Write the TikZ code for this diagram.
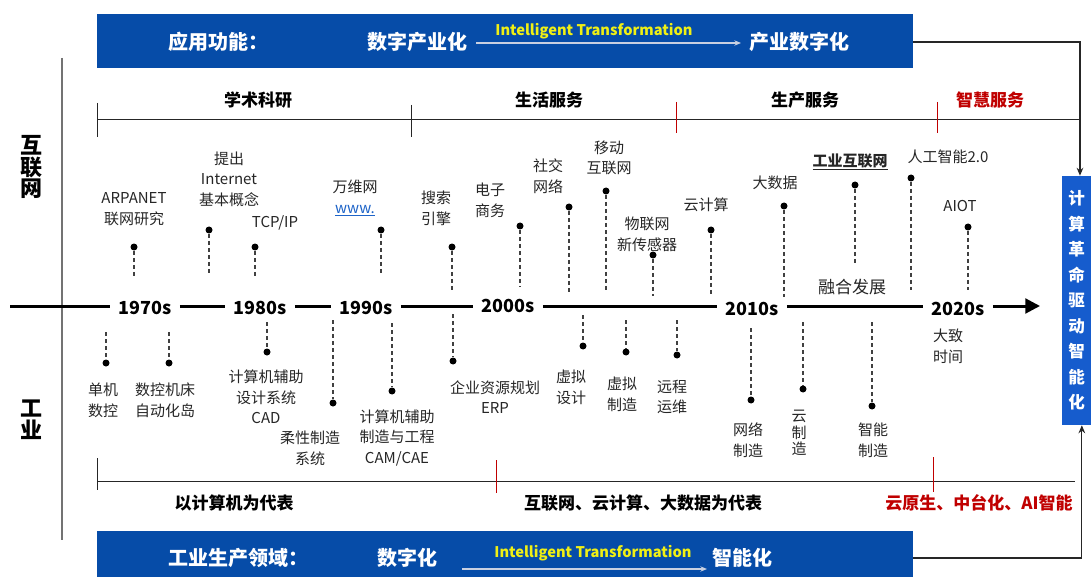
\documentclass[tikz,border=0pt]{standalone}
\usepackage{fontspec}
\setmainfont{Noto Sans CJK SC}
\usetikzlibrary{arrows.meta}
\definecolor{bannerblue}{RGB}{6,76,168}
\definecolor{boxblue}{RGB}{22,92,205}
\definecolor{darkred}{RGB}{192,0,0}
\definecolor{ityellow}{RGB}{240,240,20}
\definecolor{linkblue}{RGB}{30,100,200}
\definecolor{arrowgray}{RGB}{200,208,225}
\tikzset{
  lbl/.style={font=\fontsize{11.25pt}{15.5pt}\selectfont, align=center, inner sep=0pt, text=black!85},
  catlbl/.style={font=\bfseries\fontsize{12.75pt}{15pt}\selectfont, inner sep=0pt},
  yearlbl/.style={font=\bfseries\fontsize{13.5pt}{15pt}\selectfont, inner xsep=6pt, inner ysep=0pt},
  banlbl/.style={font=\bfseries\fontsize{15pt}{18pt}\selectfont, text=white, inner sep=0pt},
  itlbl/.style={font=\bfseries\fontsize{11pt}{12pt}\selectfont, text=ityellow, inner sep=0pt},
  dotn/.style={circle, fill=black, inner sep=0pt, minimum size=5.25pt},
  dashln/.style={dash pattern=on 3pt off 2.25pt, line width=0.9pt, black!75},
  tline/.style={line width=2.25pt, black},
  brline/.style={line width=0.75pt, black!85},
  redtick/.style={line width=0.75pt, darkred},
  conn/.style={line width=0.9pt, black!85, -{Stealth[length=6pt,width=5pt]}},
  itarrow/.style={line width=1.1pt, arrowgray, -{Stealth[length=5pt,width=4pt]}},
}
\begin{document}
\begin{tikzpicture}[x=0.75pt,y=-0.75pt]
\useasboundingbox (0,0) rectangle (1091,577);
\fill[white] (0,0) rectangle (1091,577);

% banners
\node[fill=bannerblue, minimum width=612pt, minimum height=40.5pt, inner sep=0pt, anchor=north west] (topbanner) at (97,14) {};
\node[fill=bannerblue, minimum width=612pt, minimum height=34.5pt, inner sep=0pt, anchor=north west] (botbanner) at (97,531) {};
\node[banlbl] (tb1) at (218,42) {应用功能：};
\node[banlbl] (tb2) at (417,42) {数字产业化};
\node[banlbl] (tb3) at (799,42) {产业数字化};
\node[itlbl] (tit) at (594,31) {Intelligent Transformation};
\coordinate (ta1) at (476,43);
\coordinate (ta2) at (741,43);
\draw[itarrow] (ta1) -- (ta2);
\node[banlbl] (bb1) at (238,558) {工业生产领域：};
\node[banlbl] (bb2) at (407,558) {数字化};
\node[banlbl] (bb3) at (742,558) {智能化};
\node[itlbl] (bit) at (593,553) {Intelligent Transformation};
\coordinate (ba1) at (462,569);
\coordinate (ba2) at (707,569);
\draw[itarrow] (ba1) -- (ba2);

% vertical box
\node[fill=boxblue, minimum width=21.75pt, minimum height=186.75pt, inner sep=0pt, text=white,
  align=center, font=\bfseries\fontsize{12.4pt}{19.1pt}\selectfont] (vbox) at (1076.5,300.5)
  {计\\算\\革\\命\\驱\\动\\智\\能\\化};
\coordinate (tcorner) at (913,42);
\coordinate (bcorner) at (913,558);
\draw[conn] (tcorner) -| ([xshift=2.6pt]vbox.north);
\draw[conn] (bcorner) -| ([xshift=4pt]vbox.south);

% left side
\coordinate (lv1) at (62,58);
\coordinate (lv2) at (62,540);
\draw[line width=0.8pt, black!55] (lv1) -- (lv2);
\node[align=center, inner sep=0pt, font=\bfseries\fontsize{16.5pt}{15pt}\selectfont] (hlw) at (32,167) {互\\联\\网};
\node[align=center, inner sep=0pt, font=\bfseries\fontsize{16.5pt}{16.5pt}\selectfont] (gy) at (32,420) {工\\业};

% top bracket
\coordinate (tb0) at (97,120);
\coordinate (tbe) at (1080,120);
\draw[brline] (tb0) -- (tbe);
\draw[brline] (97,103) -- (97,137);
\draw[brline] (411,105) -- (411,137);
\draw[redtick] (676,102) -- (676,133);
\draw[redtick] (937,102) -- (937,133);
\node[catlbl] (c1) at (258,100) {学术科研};
\node[catlbl] (c2) at (549,100) {生活服务};
\node[catlbl] (c3) at (805,100) {生产服务};
\node[catlbl, text=darkred] (c4) at (990,100) {智慧服务};

% bottom bracket
\coordinate (bb0) at (97,481);
\coordinate (bbe) at (1075,481);
\draw[brline] (bb0) -- (bbe);
\draw[brline] (97,458) -- (97,490);
\draw[redtick] (496,460) -- (496,493);
\draw[redtick] (933,457) -- (933,492);
\node[catlbl] (k1) at (234,503) {以计算机为代表};
\node[catlbl] (k2) at (643,503) {互联网、云计算、大数据为代表};
\node[catlbl, text=darkred] (k3) at (979,503) {云原生、中台化、AI智能};

% main timeline
\coordinate (tl0) at (10,306);
\node[yearlbl] (y70) at (145,308) {1970s};
\node[yearlbl] (y80) at (260,308) {1980s};
\node[yearlbl] (y90) at (366,308) {1990s};
\node[yearlbl] (y00) at (508,306) {2000s};
\node[yearlbl] (y10) at (752,309) {2010s};
\node[yearlbl] (y20) at (958,309) {2020s};
\coordinate (tlend) at (1040,306);
\draw[tline] (tl0) -- (y70.west |- tl0);
\draw[tline] (y70.east |- tl0) -- (y80.west |- tl0);
\draw[tline] (y80.east |- tl0) -- (y90.west |- tl0);
\draw[tline] (y90.east |- tl0) -- (y00.west |- tl0);
\draw[tline] (y00.east |- tl0) -- (y10.west |- tl0);
\draw[tline] (y10.east |- tl0) -- (y20.west |- tl0);
\draw[tline, -{Triangle[length=11pt,width=11pt]}] (y20.east |- tl0) -- (tlend);
\node[lbl, font=\fontsize{12.75pt}{15pt}\selectfont] (rh) at (852,287) {融合发展};
\node[lbl] (dzsj) at (948,346) {大致\\时间};

% upper items (internet)
\node[lbl] (t1) at (134,209) {ARPANET\\联网研究};
\node[lbl] (t2) at (229,179) {提出\\Internet\\基本概念};
\node[lbl] (t3) at (275,223) {TCP/IP};
\node[lbl] (t4) at (355,198) {万维网\\{\color{linkblue}\underline{www.}}};
\node[lbl] (t5) at (436,208) {搜索\\引擎};
\node[lbl] (t6) at (490,200) {电子\\商务};
\node[lbl] (t7) at (548,176) {社交\\网络};
\node[lbl] (t8) at (609,158) {移动\\互联网};
\node[lbl] (t9) at (647,234) {物联网\\新传感器};
\node[lbl] (t10) at (706,205) {云计算};
\node[lbl] (t11) at (775,183) {大数据};
\node[lbl, font=\bfseries\fontsize{11.25pt}{15pt}\selectfont] (t12) at (850,162) {\underline{工业互联网}};
\node[lbl] (t13) at (948,157) {人工智能2.0};
\node[lbl] (t14) at (960,206) {AIOT};

\foreach \n/\x/\y/\e in {1/134/247/278, 2/209/230/275, 3/255/247/278, 4/381/230/275,
  5/452/247/292, 6/520/226/287, 7/569/207/292, 8/606/191/292, 9/653/255/296,
  10/711/230/296, 11/784/206/297, 12/855/185/265, 13/911/178/290, 14/968/227/290}{
  \node[dotn] (d\n) at (\x,\y) {};
  \coordinate (e\n) at (\x,\e);
  \draw[dashln] (d\n) -- (e\n);
}

% lower items (industry)
\node[lbl] (u1) at (103,400) {单机\\数控};
\node[lbl] (u2) at (165,400) {数控机床\\自动化岛};
\node[lbl] (u3) at (266,397) {计算机辅助\\设计系统\\CAD};
\node[lbl] (u4) at (310,448) {柔性制造\\系统};
\node[lbl] (u5) at (397,438) {计算机辅助\\制造与工程\\CAM/CAE};
\node[lbl] (u6) at (495,397) {企业资源规划\\ERP};
\node[lbl] (u7) at (571,387) {虚拟\\设计};
\node[lbl] (u8) at (622,394) {虚拟\\制造};
\node[lbl] (u9) at (672,397) {远程\\运维};
\node[lbl] (u10) at (748,440) {网络\\制造};
\node[lbl, font=\fontsize{11.25pt}{12.5pt}\selectfont] (u11) at (799,433) {云\\制\\造};
\node[lbl] (u12) at (873,440) {智能\\制造};

\foreach \n/\x/\y/\s in {1/106/363/332, 2/169/363/332, 3/267/352/322, 4/333/403/320,
  5/392/391/323, 6/453/361/314, 7/583/346/315, 8/626/352/320, 9/677/355/320,
  10/751/400/328, 11/803/389/322, 12/872/406/322}{
  \node[dotn] (g\n) at (\x,\y) {};
  \coordinate (s\n) at (\x,\s);
  \draw[dashln] (s\n) -- (g\n);
}
\end{tikzpicture}
\end{document}
